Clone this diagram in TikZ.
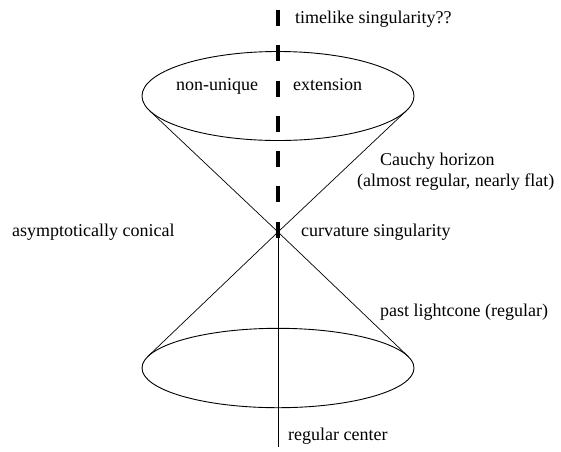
\documentclass[tikz,border=0pt]{standalone}
\usepackage{fontspec}
\setmainfont{Liberation Serif}
\newfontfamily\timesfont{Liberation Serif}
\usetikzlibrary{shapes.geometric}
\begin{document}
\begin{tikzpicture}[x=1pt,y=-1pt,
  lbl/.style={anchor=base west,inner sep=0pt,font=\timesfont\fontsize{18}{21}\selectfont},
  disc/.style={ellipse,draw,line width=0.9pt,inner sep=0pt},
  thin/.style={line width=0.7pt},
  sing/.style={line width=4.5pt,dash pattern=on 16pt off 19.28pt}]
\useasboundingbox (0,0) rectangle (561,451);
% nodes
\node[disc,minimum width=272pt,minimum height=89pt] (upper) at (278,96) {};
\node[disc,minimum width=272pt,minimum height=79.4pt] (lower) at (278,368) {};
\coordinate (v) at (278,232);
\coordinate (utl) at (149.5,110.6);
\coordinate (utr) at (406.5,110.6);
\coordinate (ltl) at (147.9,356.4);
\coordinate (ltr) at (408.1,356.4);
\coordinate (sTop) at (278,10);
\coordinate (sBot) at (278,237.8);
\coordinate (cBot) at (278,446.7);
% connectors
\draw[thin] (utl) -- (v) -- (ltr);
\draw[thin] (utr) -- (v) -- (ltl);
\draw[thin] (v) -- (cBot);
\draw[sing] (sTop) -- (sBot);
% labels
\node[lbl] (t1) at (295,23.5) {timelike singularity??};
\node[lbl] (t2) at (176,90.7) {non-unique};
\node[lbl] (t3) at (293,90.7) {extension};
\node[lbl] (t4) at (380,165) {Cauchy horizon};
\node[lbl] (t5) at (357,186.7) {(almost regular, nearly flat)};
\node[lbl] (t6) at (12,236.7) {asymptotically conical};
\node[lbl] (t7) at (301,236.7) {curvature singularity};
\node[lbl] (t8) at (380,316.7) {past lightcone (regular)};
\node[lbl] (t9) at (288,440.7) {regular center};
\end{tikzpicture}
\end{document}
